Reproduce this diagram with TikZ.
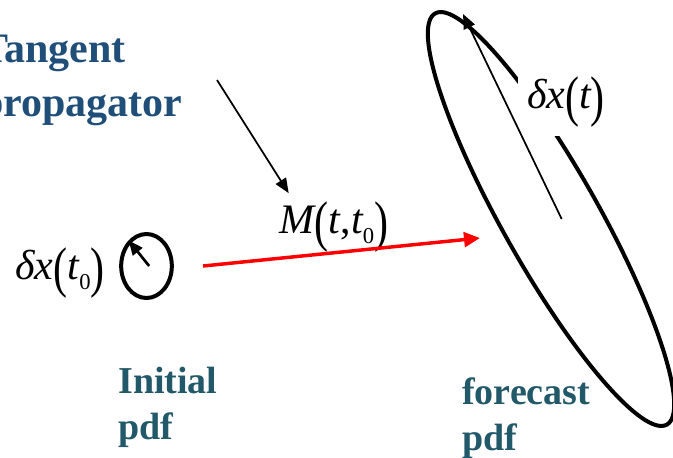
\documentclass[tikz,border=0pt]{standalone}
\usepackage{fontspec}
\setmainfont{Liberation Serif}
\usetikzlibrary{arrows.meta,positioning,shapes.geometric}
\definecolor{titleblue}{HTML}{1F4E79}
\definecolor{pdfteal}{HTML}{215968}
\newcommand{\opar}{\raisebox{-0.17em}{\scalebox{1}[1.33]{(}}}
\newcommand{\cpar}{\raisebox{-0.17em}{\scalebox{1}[1.33]{)}}}
\newcommand{\zsub}{\raisebox{-0.25em}{\fontsize{17}{17}\selectfont 0}}

\begin{document}
\begin{tikzpicture}[
  x=0.75pt,y=-0.75pt,
  heading/.style={
    font=\fontsize{31.5}{40.5}\selectfont\bfseries,text=titleblue,
    align=left,inner sep=0pt,anchor=north west
  },
  pdflabel/.style={heading,font=\fontsize{28.5}{34.5}\selectfont\bfseries,text=pdfteal},
  mathlabel/.style={font=\fontsize{31.5}{38}\selectfont,inner sep=0pt,anchor=base},
  pdfshape/.style={ellipse,draw=black,line width=3pt,inner sep=0pt},
  arrow/.style={-{Triangle[length=11pt,width=9pt]},draw=black,line width=1.3pt},
  maparrow/.style={-{Triangle[length=12pt,width=11pt]},draw=red,line width=2.6pt}
]
\useasboundingbox (0,0) rectangle (673,457);

\node[pdfshape,minimum width=38pt,minimum height=48pt] (pdfinit) at (146.5,266) {};
\node[pdfshape,minimum width=354pt,minimum height=72pt,rotate=-60.6] (pdffcst) at (551,219) {};

\node[mathlabel] (dxinit) at (60,279) {{\itshape δx}\opar{\itshape t}\zsub\cpar};
\node[mathlabel] (tlm) at (334,233) {{\itshape M}\opar{\itshape t},{\itshape t}\zsub\cpar};
\node[mathlabel,fill=white,inner sep=7pt] (dxfcst) at (566,108) {{\itshape δx}\opar{\itshape t}\cpar};

\node[heading] (tangent) at (-20,35) {Tangent\\propagator};
\node[pdflabel] (initial) at (118,367) {Initial\\pdf};
\node[pdflabel] (forecast) at (462,377) {forecast\\pdf};

\coordinate (tanfrom) at (217,80);
\coordinate (mapfrom) at (203,266);
\coordinate (mapto) at (480,238);
\coordinate (dxtip) at (463,14);

\draw[arrow] (tanfrom) -- ([xshift=6.75pt,yshift=6pt]tlm.north west);
\draw[maparrow] (mapfrom) -- (mapto);
\draw[arrow,line width=2pt] ([xshift=2pt]pdfinit.center) -- (pdfinit.125);
\draw[arrow] ([xshift=8pt]pdffcst.center) -- (dxtip);

\end{tikzpicture}
\end{document}
